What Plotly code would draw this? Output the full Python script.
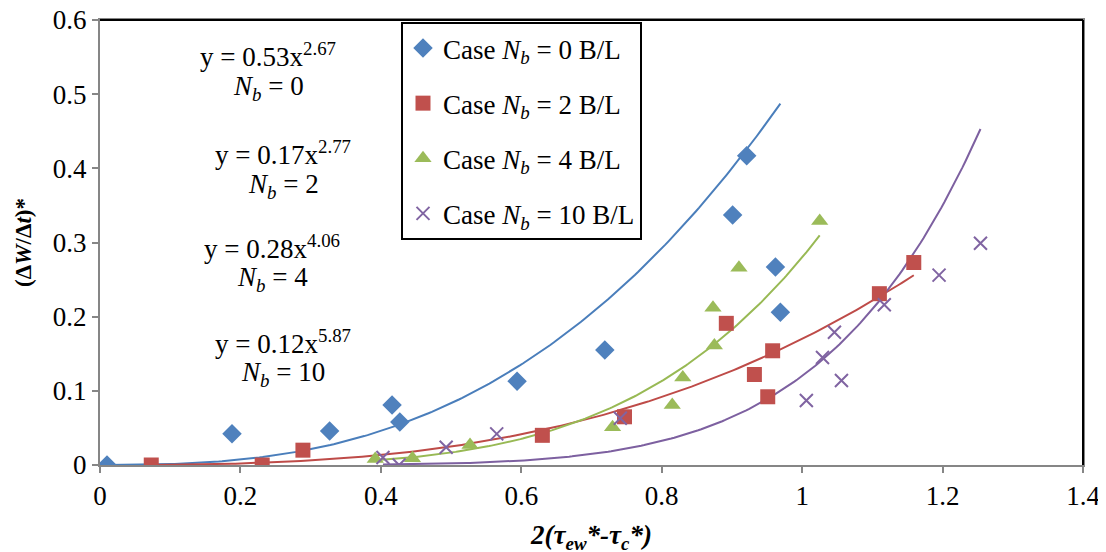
import numpy as np
import plotly.graph_objects as go

# ---- data ----
x_nb0 = [0.01, 0.188, 0.327, 0.416, 0.427, 0.594, 0.719, 0.901, 0.921, 0.962, 0.969]
y_nb0 = [0.0, 0.042, 0.046, 0.081, 0.058, 0.113, 0.155, 0.337, 0.417, 0.267, 0.206]

x_nb2 = [0.073, 0.231, 0.289, 0.630, 0.747, 0.892, 0.932, 0.951, 0.958, 1.110, 1.159]
y_nb2 = [0.0, 0.0, 0.020, 0.040, 0.065, 0.191, 0.122, 0.092, 0.154, 0.231, 0.273]

x_nb4 = [0.392, 0.445, 0.527, 0.730, 0.815, 0.830, 0.873, 0.875, 0.910, 1.025]
y_nb4 = [0.008, 0.009, 0.027, 0.051, 0.081, 0.118, 0.212, 0.161, 0.266, 0.329]

x_nb10 = [0.403, 0.426, 0.493, 0.565, 0.741, 1.006, 1.029, 1.046, 1.056, 1.117, 1.195, 1.254]
y_nb10 = [0.010, 0.0, 0.024, 0.042, 0.063, 0.087, 0.145, 0.179, 0.114, 0.216, 0.256, 0.299]

# power-law trend lines y = a * x^b (as labelled on the chart)
fit_a = [0.53, 0.17, 0.28, 0.12]
fit_b = [2.67, 2.77, 4.06, 5.87]
fit_labels = ["0.53x<sup>2.67</sup>", "0.17x<sup>2.77</sup>", "0.28x<sup>4.06</sup>", "0.12x<sup>5.87</sup>"]
nb_values = ["0", "2", "4", "10"]

series_names = ["Case <i>N<sub>b</sub></i> = 0 B/L", "Case <i>N<sub>b</sub></i> = 2 B/L",
                "Case <i>N<sub>b</sub></i> = 4 B/L", "Case <i>N<sub>b</sub></i> = 10 B/L"]

x_ticks = [0, 0.2, 0.4, 0.6, 0.8, 1.0, 1.2, 1.4]
y_ticks = [0, 0.1, 0.2, 0.3, 0.4, 0.5, 0.6]

FONT = "Liberation Serif"
FS = 27
marker_colors = ["#4F81BD", "#C0504D", "#9BBB59", "#8064A2"]
line_colors = ["#4A7EBB", "#BE4B48", "#98B954", "#7D60A0"]
symbols = ["diamond", "square", "triangle-up", "x-thin"]
sizes = [15, 15, 15, 13]

xs = [x_nb0, x_nb2, x_nb4, x_nb10]
ys = [y_nb0, y_nb2, y_nb4, y_nb10]

fig = go.Figure()

for i in range(4):
    xmin, xmax = min(xs[i]), max(xs[i])
    xf = np.linspace(xmin, xmax, 200)
    yf = fit_a[i] * xf ** fit_b[i]
    fig.add_trace(go.Scatter(x=xf, y=yf, mode="lines",
                             line=dict(color=line_colors[i], width=2),
                             showlegend=False, hoverinfo="skip"))

for i in range(4):
    if symbols[i] == "x-thin":
        mk = dict(symbol="x-thin", size=sizes[i], line=dict(width=2, color=marker_colors[i]))
    else:
        mk = dict(symbol=symbols[i], size=sizes[i], color=marker_colors[i], line=dict(width=0))
    fig.add_trace(go.Scatter(x=xs[i], y=ys[i], mode="markers", marker=mk,
                             name=series_names[i], legendgroup=str(i)))

# plot-area position in screen pixels (page body has an 8px margin)
OFF = 8
L, R, T, B = 100, 1083, 20, 465
W, H = 1106, 552
def px2paper(px, py):
    return (px - L) / (R - L), (B - py) / (B - T)

# equation annotations (screen-pixel centres)
eq_pos = [(268, 55, 88), (283, 153, 186), (272, 247, 279), (283, 342, 374)]
for i in range(4):
    cx, y1, y2 = eq_pos[i]
    xp, yp1 = px2paper(cx, y1)
    _, yp2 = px2paper(cx, y2)
    fig.add_annotation(x=xp, y=yp1, xref="paper", yref="paper", showarrow=False,
                       xanchor="center", yanchor="middle",
                       text="y = " + fit_labels[i], font=dict(family=FONT, size=FS, color="black"))
    fig.add_annotation(x=xp, y=yp2, xref="paper", yref="paper", showarrow=False,
                       xanchor="center", yanchor="middle",
                       text="<i>N<sub>b</sub></i> = " + nb_values[i], font=dict(family=FONT, size=FS, color="black"))

# black top and right border of the plot area
fig.add_shape(type="line", xref="x domain", yref="y domain", x0=0, x1=1, y0=1, y1=1,
              line=dict(color="black", width=2))
fig.add_shape(type="line", xref="x domain", yref="y domain", x0=1, x1=1, y0=0, y1=1,
              line=dict(color="black", width=2))

fig.update_layout(
    width=W, height=H,
    margin=dict(l=L - OFF, r=W - (R - OFF), t=T - OFF, b=H - (B - OFF), autoexpand=False),
    paper_bgcolor="white", plot_bgcolor="white",
    font=dict(family=FONT, size=FS, color="black"),
    showlegend=True,
    legend=dict(x=(401 - L) / (R - L), y=(B - 22) / (B - T), xanchor="left", yanchor="top",
                bgcolor="white", bordercolor="black", borderwidth=2,
                font=dict(family=FONT, size=FS, color="black"),
                traceorder="grouped", tracegroupgap=17, itemwidth=30),
    xaxis=dict(range=[0, 1.4], tickvals=x_ticks, ticktext=[f"{v:g}" for v in x_ticks],
               automargin=False, ticklabeloverflow="allow", mirror=True,
               showgrid=False, zeroline=False, showline=True, linecolor="#868686", linewidth=2,
               ticks="outside", ticklen=6, tickcolor="#868686", tickwidth=2,
               tickfont=dict(family=FONT, size=FS, color="black"),
               title=dict(text="<b><i>2(τ<sub>ew</sub>*-τ<sub>c</sub>*)</i></b>",
                          font=dict(family=FONT, size=FS, color="black"))),
    yaxis=dict(range=[0, 0.6], tickvals=y_ticks, ticktext=[f"{v:g}" for v in y_ticks],
               automargin=False, ticklabeloverflow="allow", mirror=True,
               showgrid=False, zeroline=False, showline=True, linecolor="#868686", linewidth=2,
               ticks="outside", ticklen=6, tickcolor="#868686", tickwidth=2,
               tickfont=dict(family=FONT, size=FS, color="black"),
               title=dict(text="<b>(Δ<i>W</i>/Δ<i>t</i>)*</b>",
                          font=dict(family=FONT, size=23, color="black"))),
)

fig.write_html("out.html")
